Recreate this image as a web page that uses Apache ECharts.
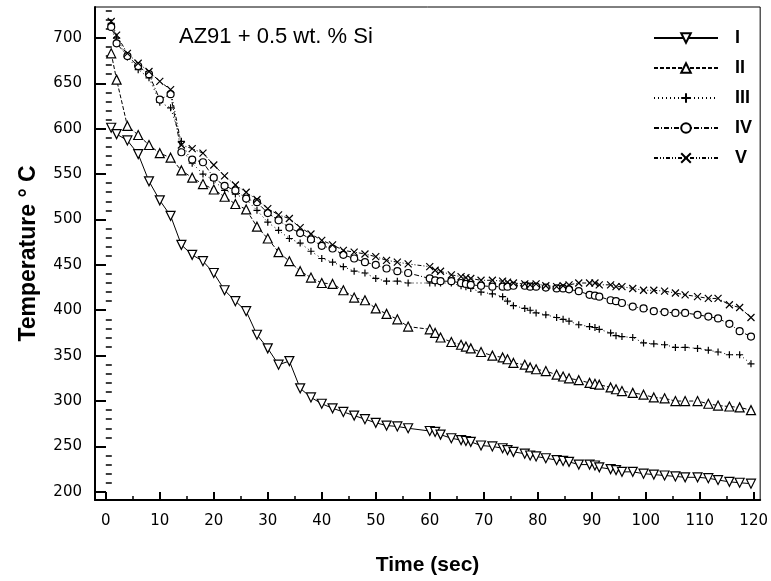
<!DOCTYPE html>
<html><head><meta charset="utf-8">
<script src="https://cdn.jsdelivr.net/npm/echarts@6/dist/echarts.min.js"></script>
<style>html,body{margin:0;padding:0;background:#fff}#c{width:771px;height:581px}</style>
</head><body><div id="c"></div>
<script>
const seriesNames = ['I', 'II', 'III', 'IV', 'V'];
const times = [1,2,4,6,8,10,12,14,16,18,20,22,24,26,28,30,32,34,36,38,40,42,44,46,48,50,52,54,56,
  60,61,62,64,65.8,66.7,67.6,69.5,71.6,73.5,74.4,75.5,77.6,78.6,79.7,81.5,83.5,84.7,85.8,87.6,89.6,90.6,91.4,93.5,94.5,95.6,97.6,99.6,101.5,103.5,105.5,107.3,109.6,111.6,113.4,115.5,117.4,119.5];
const tempI = [601,594,587,572,542,521,504,472,461,454,441,422,410,399,373,358,340,344,314,304,297,292,288,284,280,276,273,272,270,
  267,266,263,259,257,256,255,251,250,248,246,244,242,240,239,237,235,234,233,230,230,229,227,225,224,222,222,220,219,218,217,216,216,215,213,211,210,209];
const tempII = [683,654,603,593,582,573,568,554,546,539,533,525,517,511,492,479,464,454,443,436,430,429,422,414,411,402,396,390,382,
  379,375,370,365,362,360,358,354,350,348,346,342,340,337,335,333,329,327,325,323,320,319,318,315,313,311,309,307,304,303,300,300,300,297,295,294,293,290];
const tempIII = [716,700,679,665,656,629,623,586,562,550,543,532,528,522,510,497,488,479,474,465,457,453,448,443,441,435,432,432,430,
  430,430,430,430,427,426,424,420,418,415,410,405,402,400,397,395,392,390,388,384,382,381,379,375,372,371,370,364,363,362,359,359,358,356,354,351,351,341];
const tempIV = [712,694,680,669,660,632,638,574,566,563,546,537,532,523,519,507,499,491,485,478,471,468,461,457,453,450,446,443,441,
  435,433,432,432,430,429,428,427,426,426,426,427,427,426,426,425,424,424,423,421,417,416,415,411,410,408,404,402,399,398,397,397,395,393,391,385,377,371];
const tempV = [718,703,683,672,663,652,643,582,578,573,560,548,538,530,522,512,505,501,491,484,477,472,466,464,462,459,455,453,451,
  448,444,443,439,437,436,435,433,433,432,431,430,429,428,429,427,426,427,428,430,430,430,428,428,426,426,424,422,422,421,419,417,415,413,413,406,403,392];
const xTicks = [0,10,20,30,40,50,60,70,80,90,100,110,120];
const xMinorTicks = [5,15,25,35,45,55,65,75,85,95,105,115];
const yTicks = [200,250,300,350,400,450,500,550,600,650,700];
const yMinorTicks = [210,220,230,240,260,270,280,290,310,320,330,340,360,370,380,390,410,420,430,440,460,470,480,490,510,520,530,540,560,570,580,590,610,620,630,640,660,670,680,690,710,720,730];

const chart = echarts.init(document.getElementById('c'), null, {renderer: 'canvas'});
const pair = arr => times.map((t, i) => [t, arr[i]]);
const black = '#000';
const mk = (name, arr, symbol, size, dash, rotate) => ({
  name, type: 'line', data: pair(arr), symbol, symbolSize: size, symbolRotate: rotate || 0,
  showAllSymbol: true, animation: false,
  lineStyle: {color: black, width: 1, type: dash},
  itemStyle: {color: '#fff', borderColor: black, borderWidth: 1.2}
});
const axisFont = {color: black, fontSize: 15, fontFamily: 'DejaVu Sans'};
chart.setOption({
  animation: false,
  backgroundColor: '#fff',
  grid: {left: 95, right: 7, top: 7, bottom: 78, show: true, borderColor: black, borderWidth: 1, backgroundColor: 'transparent'},
  legend: {
    data: seriesNames, orient: 'vertical', left: 648, top: 24,
    itemWidth: 64, itemHeight: 12, itemGap: 12,
    textStyle: {color: black, fontSize: 18, fontWeight: 'bold', fontFamily: 'Liberation Sans', padding: [0, 0, 0, 12]}
  },
  graphic: [{type: 'text', left: 179, top: 26, style: {text: 'AZ91 + 0.5 wt. % Si', font: '22px "Liberation Sans"', fill: black}}],
  xAxis: [
    {type: 'value', min: -2, max: 121.2, position: 'bottom',
     axisLine: {show: true, onZero: false, lineStyle: {color: black, width: 2}},
     axisTick: {show: true, inside: true, length: 8, customValues: xTicks, lineStyle: {color: black, width: 2}},
     axisLabel: Object.assign({customValues: xTicks, margin: 14}, axisFont),
     splitLine: {show: false},
     name: 'Time (sec)', nameLocation: 'middle', nameGap: 55,
     nameTextStyle: {color: black, fontSize: 21, fontWeight: 'bold', fontFamily: 'Liberation Sans'}},
    {type: 'value', min: -2, max: 121.2, position: 'bottom',
     axisLine: {show: false},
     axisTick: {show: true, inside: true, length: 4, customValues: xMinorTicks, lineStyle: {color: black, width: 1.5}},
     axisLabel: {show: false}, splitLine: {show: false}}
  ],
  yAxis: [
    {type: 'value', min: 191, max: 734, position: 'left',
     axisLine: {show: true, onZero: false, lineStyle: {color: black, width: 2}},
     axisTick: {show: true, inside: true, length: 11, customValues: yTicks, lineStyle: {color: black, width: 2}},
     axisLabel: Object.assign({customValues: yTicks, margin: 13}, axisFont),
     splitLine: {show: false},
     name: 'Temperature ° C', nameLocation: 'middle', nameGap: 55,
     nameTextStyle: {color: black, fontSize: 23, fontWeight: 'bold', fontFamily: 'Liberation Sans'}},
    {type: 'value', min: 191, max: 734, position: 'left',
     axisLine: {show: false},
     axisTick: {show: true, inside: true, length: 6, customValues: yMinorTicks, lineStyle: {color: black, width: 1.5}},
     axisLabel: {show: false}, splitLine: {show: false}}
  ],
  series: [
    mk('I', tempI, 'triangle', 9, 'solid', 180),
    mk('II', tempII, 'triangle', 9, [4, 2]),
    mk('III', tempIII, 'path://M5,0 L5,10 M0,5 L10,5', 7, [1, 3]),
    mk('IV', tempIV, 'circle', 7, [5, 2, 1, 2]),
    mk('V', tempV, 'path://M0,0 L10,10 M10,0 L0,10', 7, [4, 2, 1, 2, 1, 2])
  ]
});
</script></body></html>
